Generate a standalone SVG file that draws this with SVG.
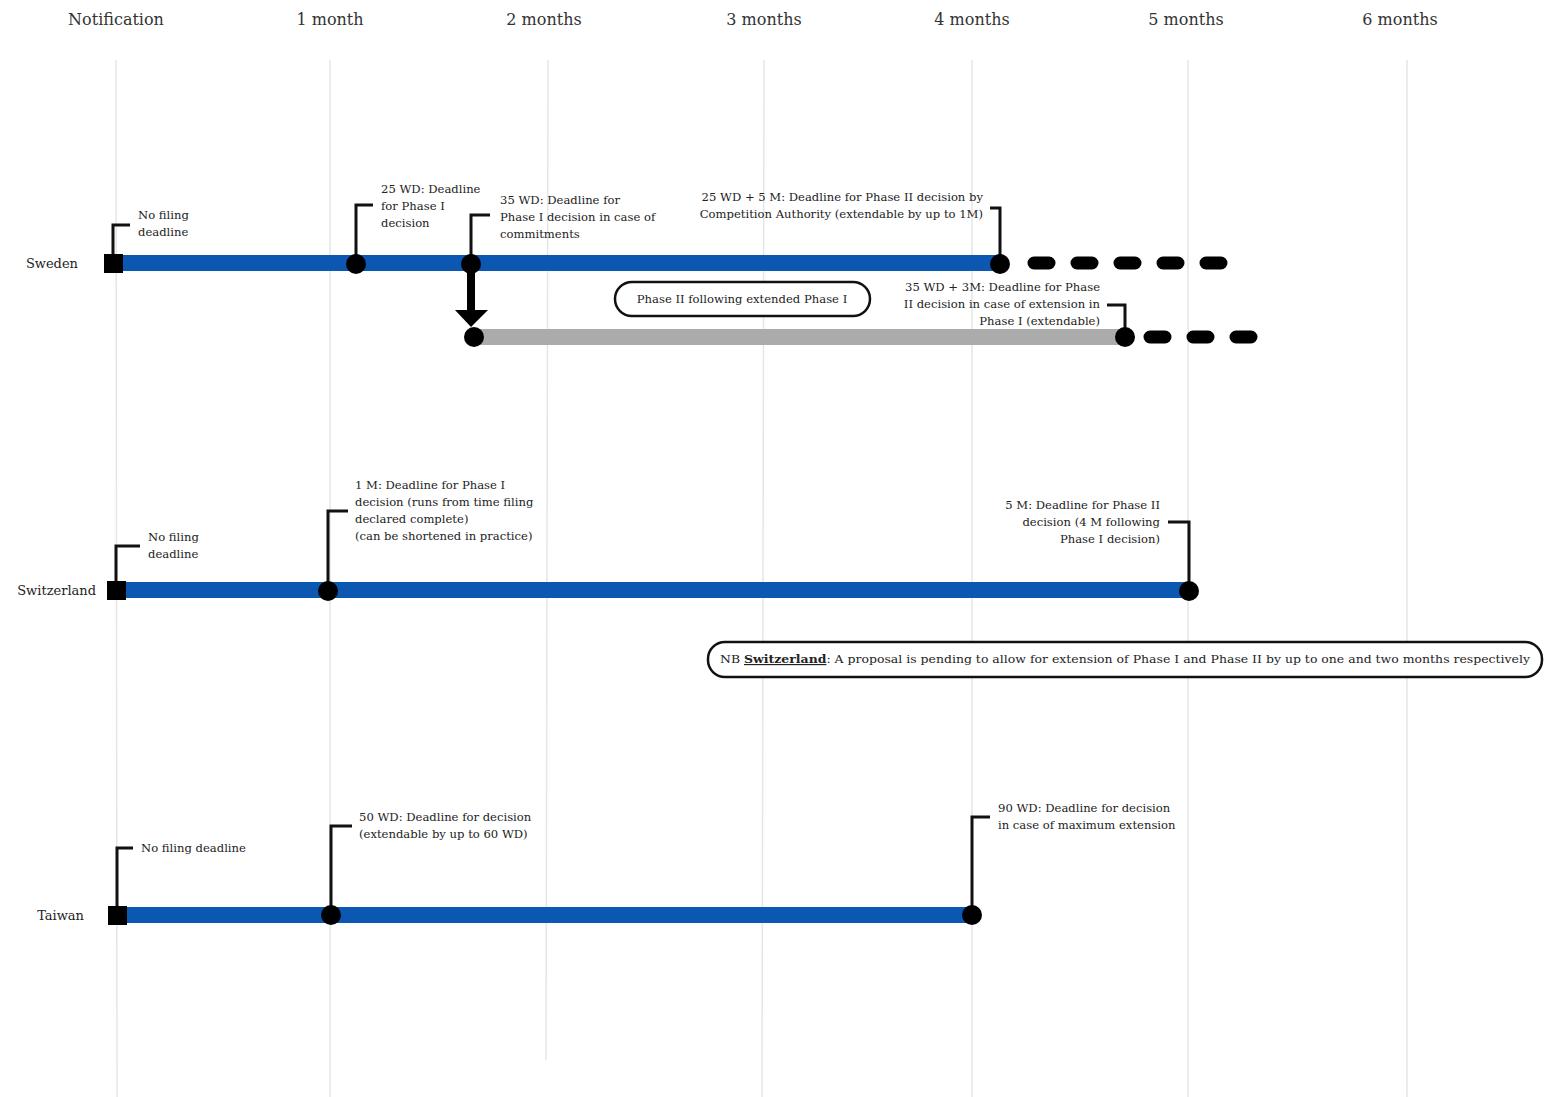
<svg xmlns="http://www.w3.org/2000/svg" width="1544" height="1097" viewBox="0 0 1544 1097">
<style>
.hdr{font-family:"DejaVu Serif","Liberation Serif",serif;font-size:16px;fill:#333}
.lbl{font-family:"DejaVu Serif","Liberation Serif",serif;font-size:13px;fill:#222}
.c{font-family:"DejaVu Serif","Liberation Serif",serif;font-size:11.6px;fill:#222}
.grid{stroke:#e6e6e6;stroke-width:1.5}
.bar{stroke:#0b57b2;stroke-width:16}
.gbar{stroke:#ababab;stroke-width:16}
.lead{fill:none;stroke:#111;stroke-width:3}
.dash{stroke:#000;stroke-width:13;stroke-linecap:round;stroke-dasharray:15 28}
.box{fill:#fff;stroke:#111;stroke-width:2.5}
</style>
<rect width="1544" height="1097" fill="#fff"/>
<g id="grid">
<line class="grid" x1="116" y1="60" x2="117" y2="1097"/>
<line class="grid" x1="330" y1="60" x2="330" y2="1097"/>
<line class="grid" x1="548" y1="60" x2="546" y2="1060"/>
<line class="grid" x1="764" y1="60" x2="762" y2="1097"/>
<line class="grid" x1="972" y1="60" x2="972" y2="1097"/>
<line class="grid" x1="1188" y1="60" x2="1188" y2="1097"/>
<line class="grid" x1="1407" y1="60" x2="1407" y2="1097"/>
</g>
<g id="headers">
<text class="hdr" x="116" y="25" text-anchor="middle">Notification</text>
<text class="hdr" x="330" y="25" text-anchor="middle">1 month</text>
<text class="hdr" x="544" y="25" text-anchor="middle">2 months</text>
<text class="hdr" x="764" y="25" text-anchor="middle">3 months</text>
<text class="hdr" x="972" y="25" text-anchor="middle">4 months</text>
<text class="hdr" x="1186" y="25" text-anchor="middle">5 months</text>
<text class="hdr" x="1400" y="25" text-anchor="middle">6 months</text>
</g>
<g id="connectors">
<line class="dash" x1="1034" y1="263" x2="1225" y2="263"/>
<line class="dash" x1="1150" y1="337" x2="1252" y2="337"/>
<path class="lead" d="M113 262V225H130"/>
<path class="lead" d="M356 263V205H373"/>
<path class="lead" d="M471 263V215H490"/>
<path class="lead" d="M1000 263V208H990"/>
<path class="lead" d="M1125 337V305H1107"/>
<path class="lead" d="M116 590V546H140"/>
<path class="lead" d="M328 590V511H348"/>
<path class="lead" d="M1189 590V522H1168"/>
<path class="lead" d="M117 915V848H133"/>
<path class="lead" d="M331 915V826H352"/>
<path class="lead" d="M972 915V817H990"/>
<line x1="471" y1="272" x2="471" y2="312" stroke="#000" stroke-width="8"/>
<polygon points="455,310 488,310 471,327" fill="#000"/>
</g>
<g id="sweden">
<text class="lbl" x="78" y="268" text-anchor="end">Sweden</text>
<line class="bar" x1="113" y1="263" x2="1000" y2="263"/>
<rect x="104" y="254" width="19" height="19" fill="#000"/>
<circle cx="356" cy="264" r="10" fill="#000"/>
<circle cx="471" cy="264" r="10" fill="#000"/>
<circle cx="1000" cy="264" r="10" fill="#000"/>
<text class="c" x="138" y="219">No filing</text>
<text class="c" x="138" y="236">deadline</text>
<text class="c" x="381" y="193">25 WD: Deadline</text>
<text class="c" x="381" y="210">for Phase I</text>
<text class="c" x="381" y="227">decision</text>
<text class="c" x="500" y="204">35 WD: Deadline for</text>
<text class="c" x="500" y="221">Phase I decision in case of</text>
<text class="c" x="500" y="238">commitments</text>
<text class="c" x="983" y="201" text-anchor="end">25 WD + 5 M: Deadline for Phase II decision by</text>
<text class="c" x="983" y="218" text-anchor="end">Competition Authority (extendable by up to 1M)</text>
</g>
<g id="sweden-ext">
<line class="gbar" x1="474" y1="337" x2="1125" y2="337"/>
<circle cx="474" cy="337" r="10" fill="#000"/>
<circle cx="1125" cy="337" r="10" fill="#000"/>
<rect class="box" x="615" y="282" width="255" height="34" rx="17"/>
<text class="c" x="742" y="303" text-anchor="middle">Phase II following extended Phase I</text>
<text class="c" x="1100" y="291" text-anchor="end">35 WD + 3M: Deadline for Phase</text>
<text class="c" x="1100" y="308" text-anchor="end">II decision in case of extension in</text>
<text class="c" x="1100" y="325" text-anchor="end">Phase I (extendable)</text>
</g>
<g id="switzerland">
<text class="lbl" x="96" y="595" text-anchor="end">Switzerland</text>
<line class="bar" x1="116" y1="590" x2="1189" y2="590"/>
<rect x="107" y="581" width="19" height="19" fill="#000"/>
<circle cx="328" cy="591" r="10" fill="#000"/>
<circle cx="1189" cy="591" r="10" fill="#000"/>
<text class="c" x="148" y="541">No filing</text>
<text class="c" x="148" y="558">deadline</text>
<text class="c" x="355" y="489">1 M: Deadline for Phase I</text>
<text class="c" x="355" y="506">decision (runs from time filing</text>
<text class="c" x="355" y="523">declared complete)</text>
<text class="c" x="355" y="540">(can be shortened in practice)</text>
<text class="c" x="1160" y="509" text-anchor="end">5 M: Deadline for Phase II</text>
<text class="c" x="1160" y="526" text-anchor="end">decision (4 M following</text>
<text class="c" x="1160" y="543" text-anchor="end">Phase I decision)</text>
</g>
<g id="nb-note">
<rect class="box" x="708" y="642" width="834" height="35" rx="17"/>
<text class="c" x="720" y="663" textLength="810" lengthAdjust="spacingAndGlyphs">NB <tspan font-weight="bold" text-decoration="underline">Switzerland</tspan>: A proposal is pending to allow for extension of Phase I and Phase II by up to one and two months respectively</text>
</g>
<g id="taiwan">
<text class="lbl" x="84" y="920" text-anchor="end">Taiwan</text>
<line class="bar" x1="117" y1="915" x2="972" y2="915"/>
<rect x="108" y="906" width="19" height="19" fill="#000"/>
<circle cx="331" cy="915" r="10" fill="#000"/>
<circle cx="972" cy="915" r="10" fill="#000"/>
<text class="c" x="141" y="852">No filing deadline</text>
<text class="c" x="359" y="821">50 WD: Deadline for decision</text>
<text class="c" x="359" y="838">(extendable by up to 60 WD)</text>
<text class="c" x="998" y="812">90 WD: Deadline for decision</text>
<text class="c" x="998" y="829">in case of maximum extension</text>
</g>
</svg>
